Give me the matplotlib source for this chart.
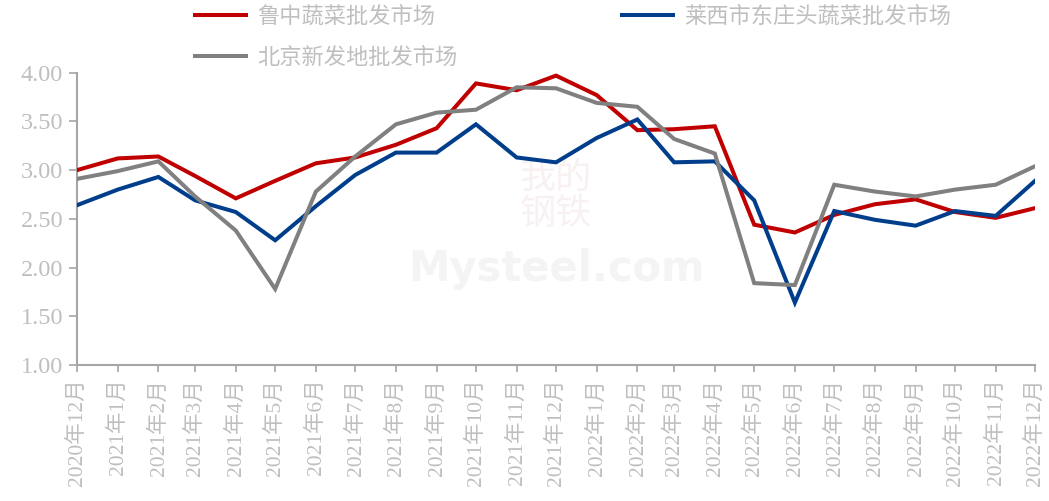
import numpy as np
import pandas as pd
import matplotlib
matplotlib.use("Agg")
from matplotlib import pyplot as plt

plt.rcParams["font.family"] = ["Liberation Serif", "Noto Sans CJK SC", "DejaVu Sans"]

# ── data ──────────────────────────────────────────────────────────────────────
months = pd.date_range("2020-12-01", periods=25, freq="MS")
month_labels = [f"{d.year}年{d.month}月" for d in months]

luzhong = [3.00, 3.12, 3.14, 2.94, 2.71, 2.89, 3.07, 3.13, 3.26, 3.43, 3.89, 3.82, 3.97,
           3.77, 3.41, 3.42, 3.45, 2.44, 2.36, 2.54, 2.65, 2.70, 2.57, 2.51, 2.61]
laixi = [2.64, 2.80, 2.93, 2.69, 2.57, 2.28, 2.63, 2.95, 3.18, 3.18, 3.47, 3.13, 3.08,
         3.33, 3.52, 3.08, 3.09, 2.69, 1.64, 2.58, 2.49, 2.43, 2.58, 2.53, 2.89]
xinfadi = [2.91, 2.99, 3.09, 2.73, 2.38, 1.78, 2.78, 3.14, 3.47, 3.59, 3.62, 3.85, 3.84,
           3.69, 3.65, 3.32, 3.17, 1.84, 1.82, 2.85, 2.78, 2.73, 2.80, 2.85, 3.04]

names = ["鲁中蔬菜批发市场", "莱西市东庄头蔬菜批发市场", "北京新发地批发市场"]
colors = ["#C00000", "#003E8C", "#808080"]

TEXT_C = "#bfbfbf"
SPINE_C = "#a6a6a6"

fig = plt.figure(figsize=(10.49, 5.01), dpi=100)
ax = fig.add_axes([0.0734, 0.2715, 0.9133, 0.5834])

# faint watermark
ax.text(0.5, 0.33, "Mysteel.com", transform=ax.transAxes, ha="center", va="center",
        fontsize=30, fontweight="bold", color="#f4f4f4", family="DejaVu Sans", zorder=0)
ax.text(0.5, 0.58, "我的\n钢铁", transform=ax.transAxes, ha="center", va="center",
        fontsize=26, color="#f9f1f1", family="Noto Sans CJK SC", linespacing=1.0, zorder=0)

lines = {}
for name, vals, c in zip(names, [luzhong, laixi, xinfadi], colors):
    lines[name], = ax.plot(months, vals, color=c, lw=2.9, solid_joinstyle="miter", zorder=3)

ax.set_xlim(months[0], months[-1])
ax.set_ylim(1.0, 4.0)
ax.set_yticks(np.arange(1.0, 4.01, 0.5))
ax.set_yticklabels([f"{v:.2f}" for v in np.arange(1.0, 4.01, 0.5)])
ax.set_xticks(months)
ax.set_xticklabels(month_labels, rotation=90)

for side in ["top", "right"]:
    ax.spines[side].set_visible(False)
for side in ["left", "bottom"]:
    ax.spines[side].set_color(SPINE_C)
    ax.spines[side].set_linewidth(1.5)

ax.tick_params(axis="y", colors=SPINE_C, labelcolor=TEXT_C, labelsize=17.5, length=6, width=1.2, pad=4)
ax.tick_params(axis="x", colors=SPINE_C, labelcolor=TEXT_C, labelsize=15.5, length=5, width=1.2, pad=5)

order = [names[0], names[2], names[1]]
leg = fig.legend([lines[n] for n in order], order, ncol=2, loc="upper left",
                 bbox_to_anchor=(0.186, 0.99), frameon=False, fontsize=16,
                 handlelength=2.3, handletextpad=0.5, columnspacing=7.4,
                 labelspacing=0.8, borderpad=0.0, borderaxespad=0.0)
for t in leg.get_texts():
    t.set_color(TEXT_C)
    t.set_family(["Noto Sans CJK SC"])

fig.savefig("out.png", dpi=100)
